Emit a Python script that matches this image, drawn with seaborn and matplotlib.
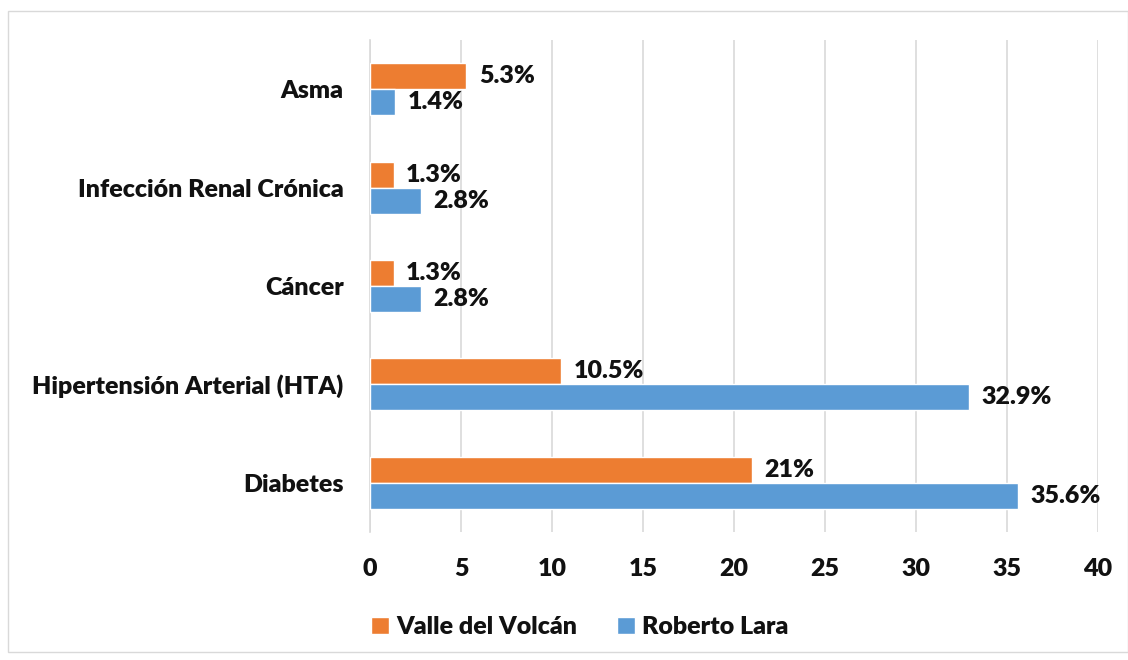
import matplotlib
matplotlib.use("Agg")
import matplotlib.pyplot as plt
from matplotlib.patches import Rectangle
import seaborn as sns
import pandas as pd

# data
categories = ["Asma", "Infección Renal Crónica", "Cáncer",
              "Hipertensión Arterial (HTA)", "Diabetes"]
valle = [5.3, 1.3, 1.3, 10.5, 21]
roberto = [1.4, 2.8, 2.8, 32.9, 35.6]
valle_labels = ["5.3%", "1.3%", "1.3%", "10.5%", "21%"]
roberto_labels = ["1.4%", "2.8%", "2.8%", "32.9%", "35.6%"]
series = ["Valle del Volcán", "Roberto Lara"]
x_ticks = [0, 5, 10, 15, 20, 25, 30, 35, 40]

df = pd.DataFrame({
    "categoria": categories * 2,
    "valor": valle + roberto,
    "serie": [series[0]] * len(categories) + [series[1]] * len(categories),
})

sns.set_theme(style="white")
plt.rcParams["font.family"] = ["Lato", "DejaVu Sans"]

FS = 18
W = "heavy"

fig = plt.figure(figsize=(11.28, 6.6), dpi=100)
ax = fig.add_axes([370 / 1128, 1 - 532 / 660, 728 / 1128, 492 / 660])

sns.barplot(data=df, y="categoria", x="valor", hue="serie", orient="h",
            palette=["#ED7D31", "#5B9BD5"], width=0.53, saturation=1,
            ax=ax, zorder=3)

for cont, labs in zip(ax.containers, [valle_labels, roberto_labels]):
    ax.bar_label(cont, labels=labs, padding=9, fontsize=FS, fontweight=W,
                 color="#111111")

ax.set_xlim(0, 40)
ax.set_xticks(x_ticks)
ax.set_xticklabels([str(t) for t in x_ticks], fontsize=FS, fontweight=W,
                   color="#111111")
ax.set_yticklabels(categories, fontsize=FS, fontweight=W, color="#111111")
ax.tick_params(axis="x", length=0, pad=19)
ax.tick_params(axis="y", length=0, pad=19)
ax.set_xlabel("")
ax.set_ylabel("")
ax.grid(axis="x", color="#d9d9d9", linewidth=1.2, zorder=0)
for s in ["top", "right", "bottom"]:
    ax.spines[s].set_visible(False)
ax.spines["left"].set_color("#d9d9d9")
ax.spines["left"].set_linewidth(1.2)

handles, labels = ax.get_legend_handles_labels()
leg = ax.legend(handles, labels, loc="center",
                bbox_to_anchor=(580 / 1128, 1 - 627 / 660),
                bbox_transform=fig.transFigure, ncol=2, frameon=False,
                prop={"size": FS, "weight": W}, handlelength=0.7,
                handleheight=0.7, columnspacing=1.6, handletextpad=0.3)
for t in leg.get_texts():
    t.set_color("#111111")

fig.patches.append(Rectangle((8 / 1128, 1 - 652 / 660), 1120 / 1128, 641 / 660,
                             transform=fig.transFigure, fill=False,
                             edgecolor="#d9d9d9", linewidth=1))

fig.savefig("out.png", dpi=100)
